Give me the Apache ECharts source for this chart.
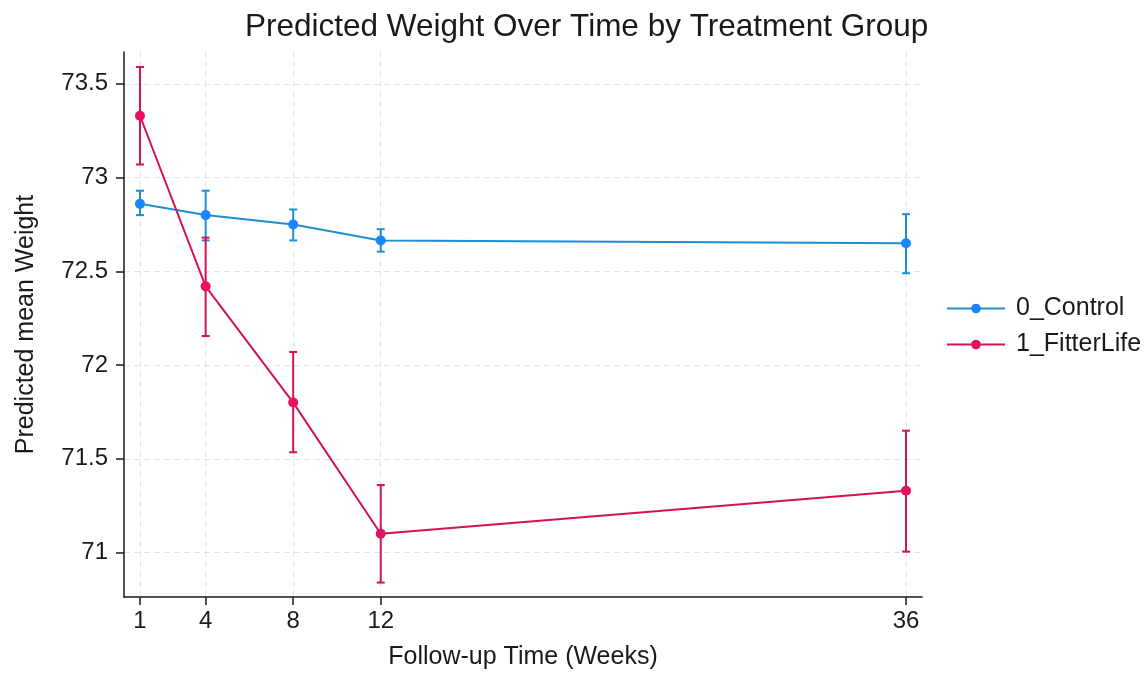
<!DOCTYPE html>
<html>
<head>
<meta charset="utf-8">
<script src="https://cdn.jsdelivr.net/npm/echarts@6/dist/echarts.min.js"></script>
<style>
html,body{margin:0;padding:0;background:#fff;}
#chart{width:1144px;height:675px;}
</style>
</head>
<body>
<div id="chart"></div>
<script>
// ---- data ----
const weeks = [1, 4, 8, 12, 36];
const xTicks = [1, 4, 8, 12, 36];
const yTicks = [71, 71.5, 72, 72.5, 73, 73.5];
const seriesNames = ['0_Control', '1_FitterLife'];
const controlMean = [72.86, 72.80, 72.75, 72.665, 72.65];
const controlLo   = [72.80, 72.665, 72.665, 72.605, 72.49];
const controlHi   = [72.93, 72.93, 72.83, 72.725, 72.805];
const fitMean = [73.33, 72.42, 71.80, 71.10, 71.33];
const fitLo   = [73.07, 72.155, 71.535, 70.84, 71.005];
const fitHi   = [73.59, 72.68, 72.07, 71.36, 71.65];

const font = 'Liberation Sans, Arial, Helvetica, sans-serif';
const blueLine = '#1d8fd6', blueMark = '#1a85ff';
const pinkLine = '#d41159', pinkMark = '#e8105e';

function pairs(xs, ys){ return xs.map((x,i)=>[x, ys[i]]); }
function ciData(xs, lo, hi){ return xs.map((x,i)=>[x, lo[i], hi[i]]); }

function ciRender(color){
  return function(params, api){
    const x = api.value(0);
    const p1 = api.coord([x, api.value(1)]);
    const p2 = api.coord([x, api.value(2)]);
    const w = 4;
    const style = {stroke: color, lineWidth: 2, fill: null};
    return {type:'group', children:[
      {type:'line', shape:{x1:p1[0], y1:p1[1], x2:p2[0], y2:p2[1]}, style},
      {type:'line', shape:{x1:p1[0]-w, y1:p1[1], x2:p1[0]+w, y2:p1[1]}, style},
      {type:'line', shape:{x1:p2[0]-w, y1:p2[1], x2:p2[0]+w, y2:p2[1]}, style}
    ]};
  };
}

const gridLineStyle = {color:'#e4e4e4', type:[6,4], width:1};

const chart = echarts.init(document.getElementById('chart'));
chart.setOption({
  animation:false,
  backgroundColor:'#fff',
  title:{
    text:'Predicted Weight Over Time by Treatment Group',
    left:245, top:11, padding:0,
    textStyle:{fontFamily:font, fontSize:31.5, fontWeight:'normal', color:'#1a1a1a'}
  },
  legend:{
    data: seriesNames,
    orient:'vertical',
    left:941, top:291,
    itemWidth:58, itemHeight:12, itemGap:11,
    textStyle:{fontFamily:font, fontSize:25, color:'#1a1a1a', padding:[0,0,0,6]}
  },
  grid:{left:124, right:222, top:52, bottom:74},
  xAxis:{
    type:'value', min:0.27, max:36.73,
    name:'Follow-up Time (Weeks)', nameLocation:'middle', nameGap:48,
    nameTextStyle:{fontFamily:font, fontSize:25, color:'#1a1a1a'},
    axisLine:{onZero:false, lineStyle:{color:'#1a1a1a', width:1.5}},
    axisTick:{show:true, length:8, customValues:xTicks, lineStyle:{color:'#1a1a1a', width:1.5}},
    axisLabel:{customValues:xTicks, margin:12, fontFamily:font, fontSize:24, color:'#1a1a1a'},
    splitLine:{show:false}
  },
  yAxis:{
    type:'value', min:70.763, max:73.67,
    name:'Predicted mean Weight', nameLocation:'middle', nameGap:85,
    nameTextStyle:{fontFamily:font, fontSize:25, color:'#1a1a1a'},
    axisLine:{show:true, onZero:false, lineStyle:{color:'#1a1a1a', width:1.5}},
    axisTick:{show:true, length:8, customValues:yTicks, lineStyle:{color:'#1a1a1a', width:1.5}},
    axisLabel:{customValues:yTicks, margin:16, fontFamily:font, fontSize:24, color:'#1a1a1a'},
    splitLine:{show:false}
  },
  series:[
    {
      type:'line', name:'grid', data:[], silent:true, z:0, zlevel:0,
      markLine:{
        silent:true, symbol:'none', label:{show:false}, z:0,
        lineStyle:gridLineStyle,
        data: xTicks.map(v=>({xAxis:v})).concat(yTicks.map(v=>({yAxis:v})))
      }
    },
    {
      type:'custom', name:'ci0', data:ciData(weeks, controlLo, controlHi),
      renderItem:ciRender(blueLine), z:5
    },
    {
      type:'custom', name:'ci1', data:ciData(weeks, fitLo, fitHi),
      renderItem:ciRender(pinkLine), z:5
    },
    {
      type:'line', name:seriesNames[0], data:pairs(weeks, controlMean),
      symbol:'circle', symbolSize:10,
      lineStyle:{color:blueLine, width:2},
      itemStyle:{color:blueMark}, z:6
    },
    {
      type:'line', name:seriesNames[1], data:pairs(weeks, fitMean),
      symbol:'circle', symbolSize:10,
      lineStyle:{color:pinkLine, width:2},
      itemStyle:{color:pinkMark}, z:6
    }
  ]
});
</script>
</body>
</html>
